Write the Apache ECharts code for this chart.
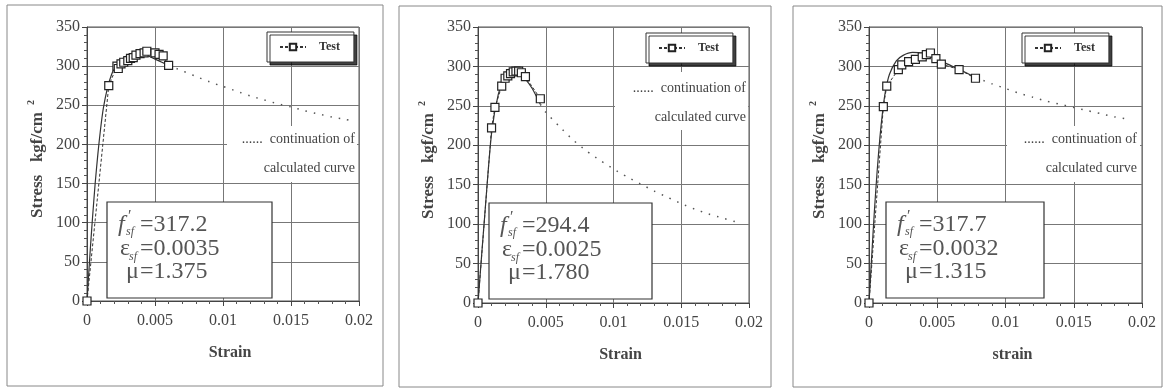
<!DOCTYPE html>
<html>
<head>
<meta charset="utf-8">
<script src="https://cdn.jsdelivr.net/npm/echarts@6/dist/echarts.min.js"></script>
<style>html,body{margin:0;padding:0;background:#fff;}#c{width:1167px;height:389px;}</style>
</head>
<body>
<div id="c"></div>
<script>
// ---- data ----
const xNames = ['Strain', 'Strain', 'strain'];
const yTicks = [0, 50, 100, 150, 200, 250, 300, 350];
const xTicks = [0, 0.005, 0.01, 0.015, 0.02];

const test1Strain = [0, 0.0016, 0.0022, 0.0023, 0.0025, 0.0027, 0.003, 0.0032, 0.0034, 0.0036, 0.0039, 0.0042, 0.0044, 0.005, 0.0053, 0.0056, 0.006];
const test1Stress = [0, 275, 300, 297, 303, 305, 307, 310, 311, 314, 316, 317, 319, 317, 315, 313, 301];
const calc1Strain = [0, 0.0002, 0.0004, 0.0006, 0.0008, 0.001, 0.0012, 0.0015, 0.0018, 0.0021, 0.0025, 0.003, 0.0035, 0.004, 0.0045, 0.005, 0.0055, 0.006];
const calc1Stress = [0, 55, 105, 150, 188, 220, 246, 272, 289, 300, 308, 314, 317.2, 316, 313, 309, 305, 301];
const cont1Strain = [0.006, 0.007, 0.008, 0.009, 0.01, 0.011, 0.012, 0.013, 0.014, 0.015, 0.016, 0.017, 0.018, 0.019, 0.0195];
const cont1Stress = [301, 294, 287, 280, 274, 268, 262, 257, 252, 248, 243, 239, 235, 232, 230];

const test2Strain = [0, 0.001, 0.00125, 0.00175, 0.002, 0.0022, 0.0024, 0.0026, 0.0028, 0.003, 0.0032, 0.0035, 0.0046];
const test2Stress = [0, 222, 248, 275, 285, 288, 291, 293, 294, 294, 292, 287, 259];
const calc2Strain = [0, 0.0005, 0.001, 0.0015, 0.002, 0.0025, 0.003, 0.0035, 0.004, 0.0046];
const calc2Stress = [0, 112, 215, 265, 287, 294.4, 292, 284, 272, 252];
const cont2Strain = [0.0046, 0.005, 0.006, 0.007, 0.008, 0.009, 0.01, 0.011, 0.012, 0.013, 0.014, 0.015, 0.016, 0.017, 0.018, 0.019];
const cont2Stress = [252, 242, 224, 207, 193, 181, 170, 160, 151, 142, 134, 126, 119, 113, 108, 103];

const test3Strain = [0, 0.00105, 0.0013, 0.00215, 0.0024, 0.0029, 0.0034, 0.0039, 0.0042, 0.0045, 0.0049, 0.0053, 0.0066, 0.0078];
const test3Stress = [0, 249, 275, 296, 302, 306, 309, 312, 315, 317, 310, 303, 296, 285];
const calc3Strain = [0, 0.0002, 0.0004, 0.0006, 0.0008, 0.001, 0.0012, 0.0015, 0.002, 0.0025, 0.0032, 0.004, 0.005, 0.006, 0.007, 0.0078];
const calc3Stress = [0, 60, 118, 168, 210, 243, 268, 290, 307, 314, 317.7, 316, 309, 301, 293, 286];
const cont3Strain = [0.0078, 0.009, 0.01, 0.011, 0.012, 0.013, 0.014, 0.015, 0.016, 0.017, 0.018, 0.019, 0.0192];
const cont3Stress = [286, 278, 272, 266, 261, 256, 252, 248, 244, 240, 236, 233, 232];

const paramF = ['317.2', '294.4', '317.7'];
const paramE = ['0.0035', '0.0025', '0.0032'];
const paramMu = ['1.375', '1.780', '1.315'];

// ---- build ----
const zip = (a, b) => a.map((v, i) => [v, b[i]]);
const panels = [
  { test: zip(test1Strain, test1Stress), calc: zip(calc1Strain, calc1Stress), cont: zip(cont1Strain, cont1Stress) },
  { test: zip(test2Strain, test2Stress), calc: zip(calc2Strain, calc2Stress), cont: zip(cont2Strain, cont2Stress) },
  { test: zip(test3Strain, test3Stress), calc: zip(calc3Strain, calc3Stress), cont: zip(cont3Strain, cont3Stress) }
];

const SERIF = '"Liberation Serif", "DejaVu Serif", serif';
const layout = [
  { grid: { left: 87, top: 27, width: 272, height: 274 }, frame: [7, 5, 376, 381], box: [107, 202, 165, 96], legend: [267, 32], cont: [355, 139, 168], bg: [227, 126, 130, 56] },
  { grid: { left: 478, top: 27, width: 271, height: 276 }, frame: [399, 6, 372, 381], box: [489, 203, 163, 96], legend: [646, 33], cont: [746, 88, 117], bg: [615, 72, 133, 58] },
  { grid: { left: 869, top: 27, width: 273, height: 276 }, frame: [793, 6, 369, 381], box: [886, 202, 158, 96], legend: [1022, 33], cont: [1137, 139, 168], bg: [1007, 126, 133, 56] }
];

const grids = [], xAxes = [], yAxes = [], series = [], legends = [], graphics = [];
layout.forEach((L, i) => {
  grids.push(Object.assign({ show: true, borderColor: '#555', borderWidth: 1, backgroundColor: '#fff' }, L.grid));
  xAxes.push({
    type: 'value', gridIndex: i, min: xTicks[0], max: xTicks[xTicks.length - 1], interval: xTicks[1] - xTicks[0],
    name: xNames[i], nameLocation: 'middle', nameGap: 44,
    nameTextStyle: { fontFamily: SERIF, fontWeight: 'bold', fontSize: 16, color: '#444', padding: [0, 0, 0, 14] },
    axisLine: { lineStyle: { color: '#444' } },
    axisTick: { show: true, length: 5, lineStyle: { color: '#444' } },
    minorTick: { show: true, splitNumber: 5, length: 3, lineStyle: { color: '#555' } },
    splitLine: { show: true, lineStyle: { color: '#777', width: 1 } },
    axisLabel: { fontFamily: SERIF, fontSize: 16, color: '#444', margin: 12 }
  });
  yAxes.push({
    type: 'value', gridIndex: i, min: yTicks[0], max: yTicks[yTicks.length - 1], interval: yTicks[1] - yTicks[0],
    name: '{a|Stress   kgf/cm}{s|2}', nameLocation: 'middle', nameGap: 37, nameRotate: 90,
    nameTextStyle: {
      padding: [0, 0, 0, 10],
      rich: {
        a: { fontFamily: SERIF, fontWeight: 'bold', fontSize: 17, color: '#444' },
        s: { fontFamily: SERIF, fontWeight: 'bold', fontSize: 10, color: '#444', verticalAlign: 'top', padding: [0, 0, 14, 7] }
      }
    },
    axisLine: { show: true, lineStyle: { color: '#444' } },
    axisTick: { show: true, length: 5, lineStyle: { color: '#444' } },
    minorTick: { show: true, splitNumber: 5, length: 3, lineStyle: { color: '#555' } },
    splitLine: { show: true, lineStyle: { color: '#777', width: 1 } },
    axisLabel: { fontFamily: SERIF, fontSize: 16, color: '#444', margin: 7 }
  });
  const P = panels[i];
  series.push({
    type: 'line', name: 'calc' + (i + 1), xAxisIndex: i, yAxisIndex: i, data: P.calc, smooth: 0.25,
    showSymbol: false, lineStyle: { color: '#333', width: 1.2 }, z: 3, silent: true
  });
  series.push({
    type: 'line', name: 'cont' + (i + 1), xAxisIndex: i, yAxisIndex: i, data: P.cont, smooth: 0.25,
    showSymbol: false, lineStyle: { color: '#555', width: 1.5, type: [1.5, 7] }, z: 3, silent: true
  });
  series.push({
    type: 'line', name: 'Test', xAxisIndex: i, yAxisIndex: i, data: P.test,
    symbol: 'rect', symbolSize: 8, showSymbol: true,
    lineStyle: { color: '#333', width: 1, type: [3, 2] },
    itemStyle: { color: '#fff', borderColor: '#222', borderWidth: 1.2 }, z: 4
  });
  legends.push({
    data: ['Test'], left: L.legend[0], top: L.legend[1], orient: 'vertical',
    backgroundColor: '#fff', borderColor: '#333', borderWidth: 1, padding: [9, 14, 9, 12],
    shadowColor: 'rgba(0,0,0,0.75)', shadowOffsetX: 3, shadowOffsetY: 3, shadowBlur: 0,
    itemWidth: 26, itemHeight: 8, itemGap: 0,
    textStyle: { fontFamily: SERIF, fontWeight: 'bold', fontSize: 12, color: '#333', padding: [0, 0, 0, 8] },
    selectedMode: false
  });
  graphics.push({ type: 'rect', shape: { x: L.frame[0], y: L.frame[1], width: L.frame[2], height: L.frame[3] },
    style: { fill: null, stroke: '#888', lineWidth: 1 }, z: 0, silent: true });
  graphics.push({ type: 'rect', shape: { x: L.bg[0], y: L.bg[1], width: L.bg[2], height: L.bg[3] },
    style: { fill: '#fff' }, z: 1, silent: true });
  graphics.push({ type: 'text', x: L.cont[0], y: L.cont[1], z: 10, silent: true,
    style: { text: '......  continuation of', font: '14px ' + SERIF, fill: '#444', align: 'right', verticalAlign: 'middle' } });
  graphics.push({ type: 'text', x: L.cont[0], y: L.cont[2], z: 10, silent: true,
    style: { text: 'calculated curve', font: '14px ' + SERIF, fill: '#444', align: 'right', verticalAlign: 'middle' } });
  const bx = L.box[0], by = L.box[1];
  graphics.push({ type: 'rect', shape: { x: bx, y: by, width: L.box[2], height: L.box[3] },
    style: { fill: '#fff', stroke: '#333', lineWidth: 1.2 }, z: 10, silent: true });
  const big = '24px ' + SERIF, itBig = 'italic 24px ' + SERIF, sm = 'italic 12px ' + SERIF;
  const eqX = bx + 33;
  const l1 = by + 23, l2 = by + 47, l3 = by + 70;
  const t = (x, y, text, font, align) => ({ type: 'text', x: x, y: y, z: 11, silent: true,
    style: { text: text, font: font, fill: '#555', align: align || 'left', verticalAlign: 'middle' } });
  graphics.push(t(bx + 11, l1, 'f', itBig));
  graphics.push(t(bx + 21, l1 - 8, '\u2032', '16px ' + SERIF));
  graphics.push(t(bx + 19, l1 + 7, 'sf', sm));
  graphics.push(t(eqX, l1, '=' + paramF[i], big));
  graphics.push(t(bx + 13, l2, '\u03b5', big));
  graphics.push(t(bx + 22, l2 + 8, 'sf', sm));
  graphics.push(t(eqX, l2, '=' + paramE[i], big));
  graphics.push(t(bx + 19, l3, '\u03bc', big));
  graphics.push(t(eqX, l3, '=' + paramMu[i], big));
});

const chart = echarts.init(document.getElementById('c'), null, { renderer: 'canvas' });
chart.setOption({
  backgroundColor: '#fff',
  animation: false,
  grid: grids, xAxis: xAxes, yAxis: yAxes, series: series, legend: legends,
  graphic: { elements: graphics }
});
</script>
</body>
</html>
